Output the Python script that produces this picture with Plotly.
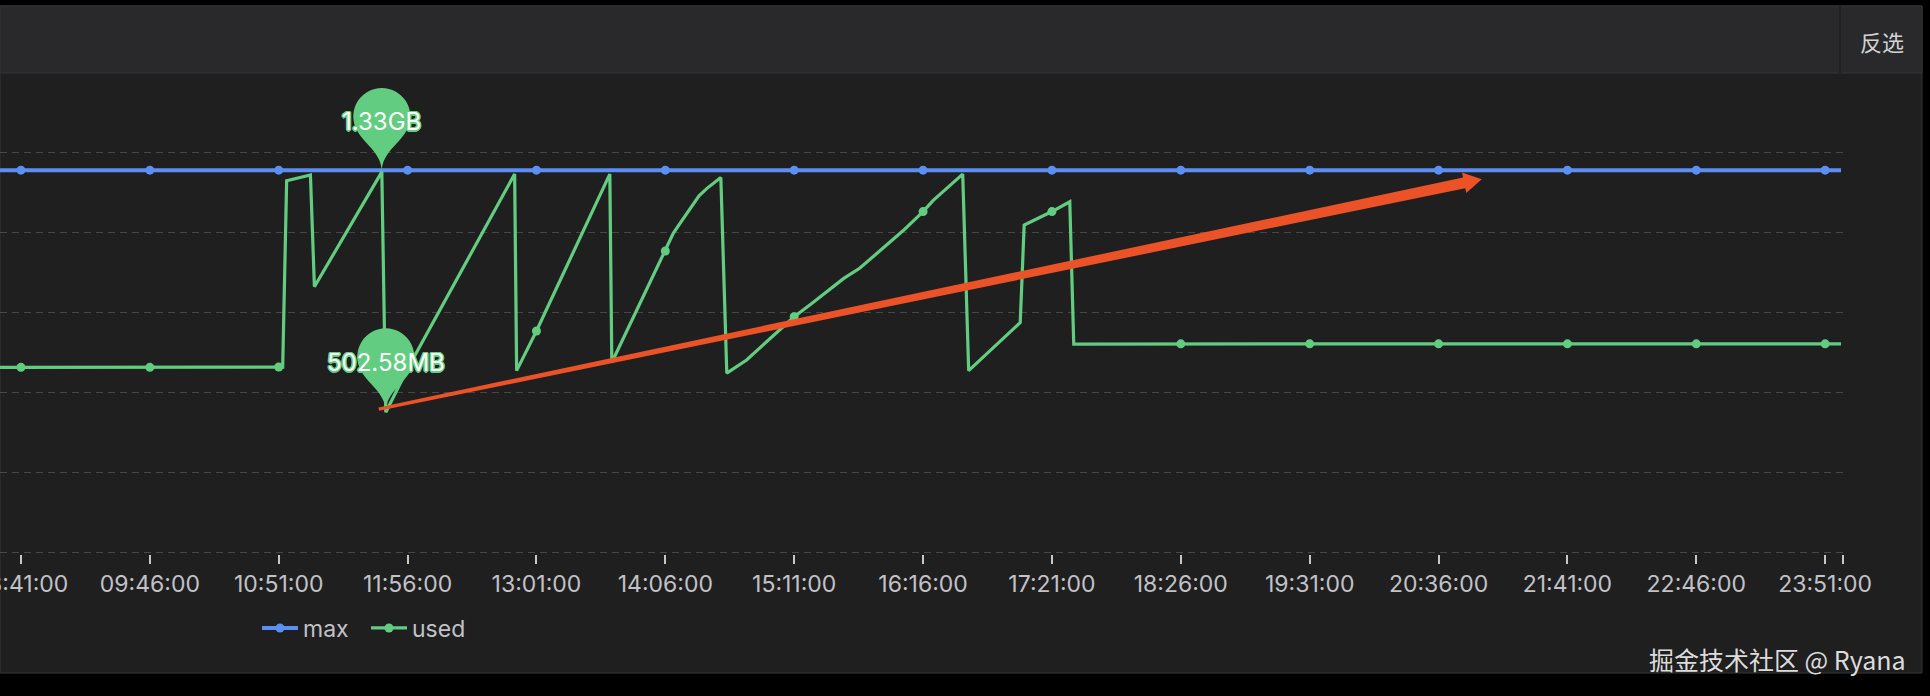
import math
import numpy as np
import pandas as pd
import plotly.graph_objects as go

# ---- data (memory in MB, time of day) ----
DAY = "2024-01-01"
tick_labels = ["08:41:00", "09:46:00", "10:51:00", "11:56:00", "13:01:00", "14:06:00", "15:11:00",
               "16:16:00", "17:21:00", "18:26:00", "19:31:00", "20:36:00", "21:41:00", "22:46:00", "23:51:00"]

used_times = ["08:30", "08:41", "09:46", "10:51", "10:53", "10:55", "11:07", "11:09", "11:43", "11:45",
              "11:56", "12:50", "12:51", "13:01", "13:38", "13:39", "14:06", "14:10", "14:14", "14:23",
              "14:27", "14:34", "14:37", "14:47", "14:59", "15:11", "15:20", "15:36", "15:44", "15:52",
              "16:06", "16:16", "16:21", "16:36", "16:39", "17:05", "17:07", "17:21", "17:30", "17:32",
              "18:26", "19:31", "20:36", "21:41", "22:46", "23:51", "23:59"]
used_mb = [663, 663, 663, 664, 664, 1330, 1351, 951, 1362, 502.58,
           658, 1354, 651, 793, 1354, 680, 1079, 1142, 1184, 1276,
           1303, 1342, 642, 689, 767, 844, 892, 981, 1017, 1065,
           1152, 1220, 1259, 1354, 651, 823, 1172, 1220, 1255, 746,
           747, 747, 747, 747, 747, 747, 747]

max_times = ["08:30", "08:41", "09:46", "10:51", "11:56", "13:01", "14:06", "15:11", "16:16",
             "17:21", "18:26", "19:31", "20:36", "21:41", "22:46", "23:51", "23:59"]
max_mb = [1368, 1368, 1368, 1368, 1368, 1368, 1368, 1368, 1368,
          1368, 1368, 1368, 1368, 1368, 1368, 1368, 1368]

# ---- styling / geometry ----
BLUE = "#5b8ff5"
GREEN = "#62cd80"
RED = "#eb5228"
MB = 1024 * 1024
W, H = 1930, 696
ML, MR, MT, MBOT = 0, 87, 151, 142
PW, PH = W - ML - MR, H - MT - MBOT
X0 = pd.Timestamp(DAY + " 08:30:25")
X1 = pd.Timestamp("2024-01-02 00:00:00")
Y0, Y1 = -4.9e6, 1.50638e9   # a hair outside 0..1.5e9 so the edge grid lines are drawn


def ts(hm):
    return pd.Timestamp(f"{DAY} {hm}")


def xfrac(t):
    return (t - X0) / (X1 - X0)


def yfrac(v):
    return (v - Y0) / (Y1 - Y0)


def px(x):
    return (x - ML) / PW


def py(y):
    return (H - MBOT - y) / PH


def fmt_mem(mb):
    return f"{mb / 1024:.2f}GB" if mb >= 1024 else f"{mb:.2f}MB"


def pin_path(width, height):
    # echarts-like 'pin' symbol, tip at (0,0), pixels, y up
    w = width * 0.6
    r = w / 2
    h = max(w, height)
    dy = r * r / (h - r)
    cy = h - r - dy
    a = math.asin(dy / r)
    dx = math.cos(a) * r
    s, c = math.sin(a), math.cos(a)
    cp1, cp2 = r * 0.6, r * 0.7
    p = f"M0,0 C0,{cp2:.2f} {-dx + s * cp1:.2f},{cy - dy - c * cp1:.2f} {-dx:.2f},{cy - dy:.2f}"
    n = 4
    d = -(math.pi + 2 * a) / n
    k = 4 / 3 * math.tan(abs(d) / 4) * r
    for i in range(n):
        t0 = math.pi + a + i * d
        t1 = t0 + d
        x0, y0 = r * math.cos(t0), cy + r * math.sin(t0)
        x3, y3 = r * math.cos(t1), cy + r * math.sin(t1)
        x1, y1 = x0 + k * math.sin(t0), y0 - k * math.cos(t0)
        x2, y2 = x3 - k * math.sin(t1), y3 + k * math.cos(t1)
        p += f" C{x1:.2f},{y1:.2f} {x2:.2f},{y2:.2f} {x3:.2f},{y3:.2f}"
    p += f" C{dx - s * cp1:.2f},{cy - dy - c * cp1:.2f} 0,{cp2:.2f} 0,0 Z"
    return p


def arrow_path(tail, tip, w_tail=3.5, w_neck=11, head_len=18, head_half=10.5):
    tail, tip = np.array(tail, float), np.array(tip, float)
    d = tip - tail
    L = np.hypot(*d)
    u = d / L
    n = np.array([-u[1], u[0]])
    neck = tail + u * (L - head_len)
    pts = [tail + n * w_tail / 2, neck + n * w_neck / 2, neck + n * head_half, tip,
           neck - n * head_half, neck - n * w_neck / 2, tail - n * w_tail / 2]
    return "M" + " L".join(f"{p[0]:.2f},{p[1]:.2f}" for p in pts) + " Z"


used_x = [ts(t) for t in used_times]
max_x = [ts(t) for t in max_times]
tick_x = [ts(t[:5]) for t in tick_labels]
tick_set = set(tick_x)

fig = go.Figure()
fig.add_trace(go.Scatter(x=max_x, y=np.array(max_mb) * MB, mode="lines+markers", name="max",
                         line=dict(color=BLUE, width=4), marker=dict(size=9, color=BLUE),
                         selectedpoints=[i for i, t in enumerate(max_x) if t in tick_set],
                         unselected=dict(marker=dict(opacity=0)), hoverinfo="skip"))
fig.add_trace(go.Scatter(x=used_x, y=np.array(used_mb) * MB, mode="lines+markers", name="used",
                         line=dict(color=GREEN, width=3.2), marker=dict(size=9, color=GREEN),
                         selectedpoints=[i for i, t in enumerate(used_x) if t in tick_set],
                         unselected=dict(marker=dict(opacity=0)), hoverinfo="skip"))

shapes = [
    dict(type="rect", xref="paper", yref="paper", x0=px(0), x1=px(1922), y0=py(673), y1=py(6),
         fillcolor="#1f1f1f", line=dict(color="#363636", width=1), layer="below"),
    dict(type="rect", xref="paper", yref="paper", x0=px(0), x1=px(1922), y0=py(73), y1=py(6),
         fillcolor="#29292c", line=dict(color="#353538", width=1), layer="below"),
    dict(type="line", xref="paper", yref="paper", x0=px(1840), x1=px(1840), y0=py(73), y1=py(6),
         line=dict(color="#202022", width=2), layer="below"),
]

i_max = int(np.argmax(used_mb))
i_min = int(np.argmin(used_mb))
annotations = []
outline = ", ".join(f"{a}px {b}px 0 {GREEN}" for a, b in
                    [(1.5, 0), (-1.5, 0), (0, 1.5), (0, -1.5), (1, 1), (-1, 1), (1, -1), (-1, -1)])
for i in (i_max, i_min):
    ax_, ay_ = xfrac(used_x[i]), yfrac(used_mb[i] * MB)
    shapes.append(dict(type="path", xref="paper", yref="paper", xsizemode="pixel", ysizemode="pixel",
                       xanchor=ax_, yanchor=ay_, path=pin_path(95, 96),
                       fillcolor=GREEN, line=dict(width=0), layer="above"))
    annotations.append(dict(xref="paper", yref="paper", x=ax_, y=ay_, yshift=50, showarrow=False,
                            text=fmt_mem(used_mb[i]), xanchor="center", yanchor="middle",
                            font=dict(family="Inter, Liberation Sans, sans-serif", size=24,
                                      color="#ffffff", shadow=outline)))

# hand-drawn red trend arrow, starting at the minimum
shapes.append(dict(type="path", xref="paper", yref="paper", xsizemode="pixel", ysizemode="pixel",
                   xanchor=xfrac(used_x[i_min]), yanchor=yfrac(used_mb[i_min] * MB),
                   path=arrow_path((-7, 3), (1096, 233)), fillcolor=RED, line=dict(width=0),
                   layer="above"))

annotations.append(dict(xref="paper", yref="paper", x=px(1882), y=py(41), text="反选", showarrow=False,
                        xanchor="center", yanchor="middle",
                        font=dict(family="Noto Sans CJK SC", size=22, color="#d2d2d2")))
annotations.append(dict(xref="paper", yref="paper", x=px(1908), y=py(659), text="掘金技术社区 @ Ryana",
                        showarrow=False, xanchor="right", yanchor="middle",
                        font=dict(family="Noto Sans CJK SC", size=25, color="#dcdcdc")))

fig.update_layout(
    width=W, height=H, margin=dict(l=ML, r=MR, t=MT, b=MBOT, autoexpand=False),
    paper_bgcolor="#000000", plot_bgcolor="rgba(0,0,0,0)",
    showlegend=True, hovermode=False,
    legend=dict(orientation="h", x=px(257), xanchor="left", y=py(628), yanchor="middle",
                itemwidth=36, entrywidth=58, bgcolor="rgba(0,0,0,0)",
                font=dict(family="Inter, Liberation Sans, sans-serif", size=23, color="#c2c2c8")),
    shapes=shapes, annotations=annotations,
)
fig.update_xaxes(type="date", range=[X0, X1], tickvals=tick_x + [pd.Timestamp("2024-01-01 23:59:50")],
                 ticktext=tick_labels + [""], ticks="outside", ticklen=9, tickwidth=1.5,
                 tickcolor="#c8c8cc", showgrid=False, showline=False, zeroline=False,
                 ticklabeloverflow="allow", automargin=False,
                 tickfont=dict(family="Inter, Liberation Sans, sans-serif", size=23, color="#c2c2c8"))
fig.update_yaxes(range=[Y0, Y1], tickvals=[0, 3e8, 6e8, 9e8, 1.2e9, 1.5e9], showticklabels=False,
                 showgrid=True, gridcolor="#474747", gridwidth=1, griddash="7px,5px",
                 zeroline=False, showline=False, automargin=False)

fig.write_html("out.html", config={"displayModeBar": False},
               post_script="document.body.style.margin='0';document.body.style.overflow='hidden';")
